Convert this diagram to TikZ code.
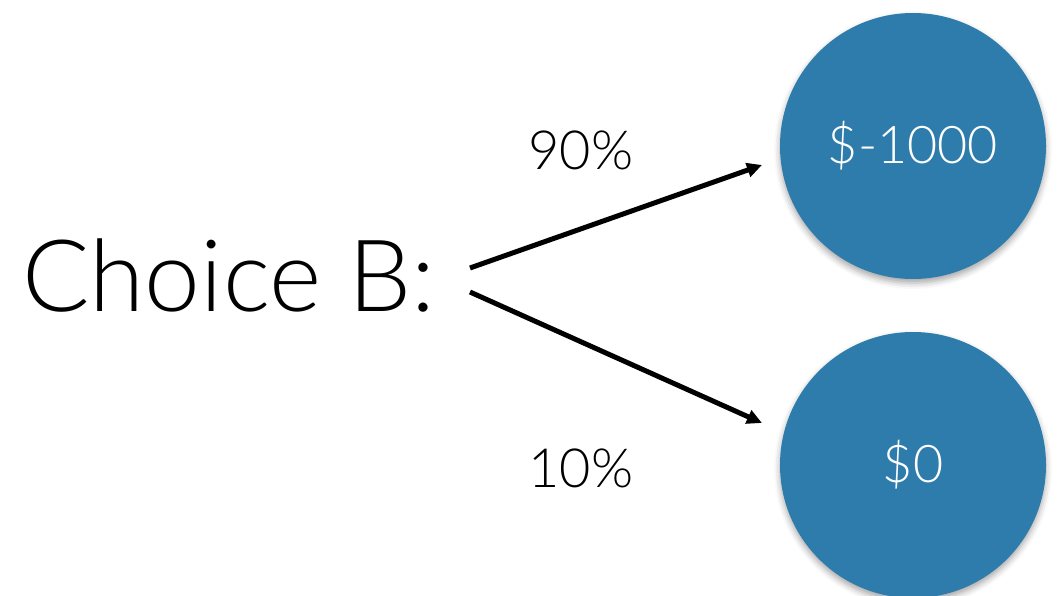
\documentclass[tikz,border=0pt]{standalone}
\usepackage{fontspec}
\setmainfont{Lato}[UprightFont=* Light]
\usetikzlibrary{arrows.meta,shadows.blur}
\definecolor{ballblue}{RGB}{45,124,172}
\tikzset{
  ball/.style={circle,fill=ballblue,minimum size=266pt,inner sep=0pt,text=white,
    font=\fontsize{52}{60}\selectfont,blur shadow={shadow xshift=0pt,shadow yshift=-4pt,shadow blur radius=6pt,shadow opacity=35}},
  prob/.style={font=\fontsize{54}{62}\selectfont},
  branch/.style={line width=5pt,-{Triangle[length=15pt,width=14pt]}}
}
\begin{document}
\begin{tikzpicture}[x=1pt,y=-1pt]
\useasboundingbox (0,0) rectangle (1061,596);
\clip (0,0) rectangle (1061,596);
\node[font=\fontsize{100}{110}\selectfont] (choice) at (229,276) {Choice B:};
\node[ball] (loss) at (913,146) {\$-1000};
\node[ball] (zero) at (913,465) {\$0};
\coordinate (s1) at (470,268);
\coordinate (s2) at (470,292);
\coordinate (e1) at (762,165);
\coordinate (e2) at (762,423);
\draw[branch] (s1) -- (e1);
\draw[branch] (s2) -- (e2);
\node[prob] (p90) at (581,150) {90\%};
\node[prob] (p10) at (581,468) {10\%};
\end{tikzpicture}
\end{document}
